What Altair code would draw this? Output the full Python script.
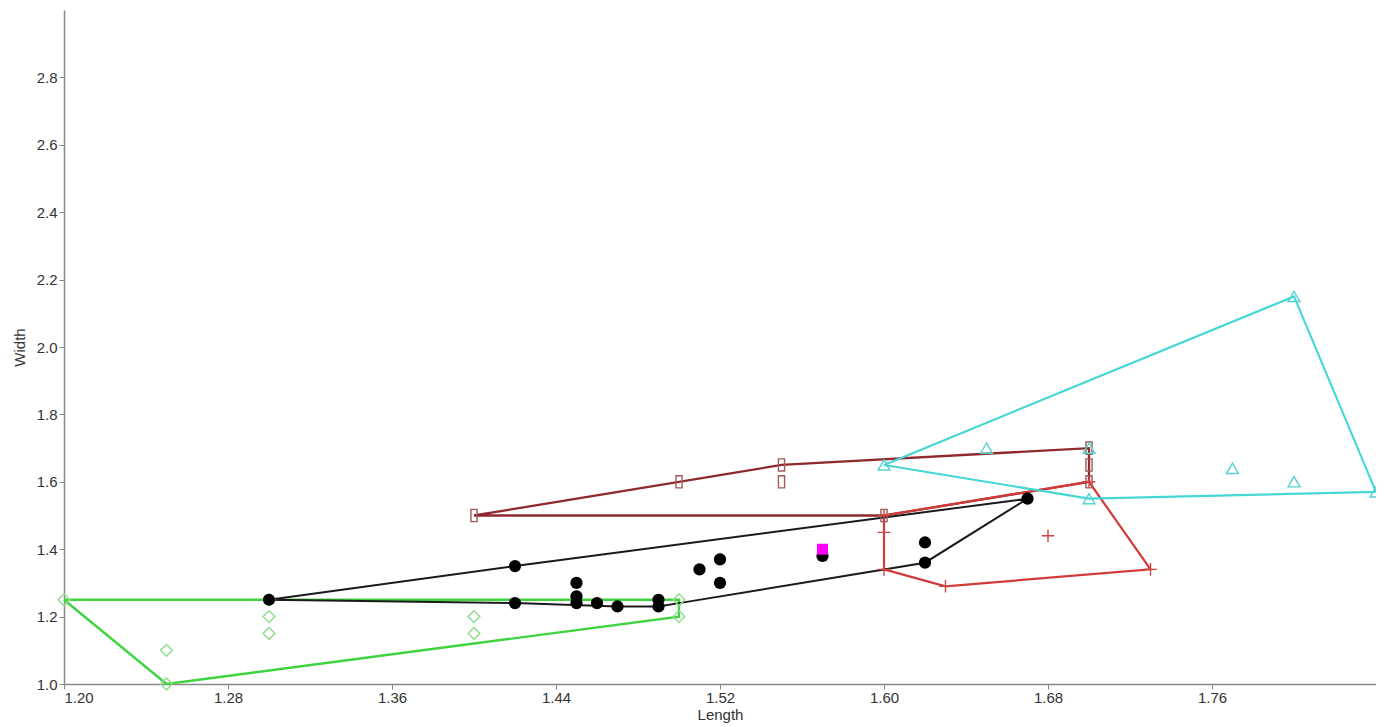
import altair as alt
import pandas as pd

# ---- data ----
black_x = [1.30, 1.42, 1.42, 1.45, 1.45, 1.45, 1.46, 1.47, 1.49, 1.49, 1.51, 1.52, 1.52, 1.57, 1.62, 1.62, 1.67]
black_y = [1.25, 1.35, 1.24, 1.30, 1.26, 1.24, 1.24, 1.23, 1.25, 1.23, 1.34, 1.37, 1.30, 1.38, 1.42, 1.36, 1.55]

green_x = [1.20, 1.25, 1.25, 1.30, 1.30, 1.30, 1.40, 1.40, 1.50, 1.50]
green_y = [1.25, 1.10, 1.00, 1.25, 1.20, 1.15, 1.20, 1.15, 1.25, 1.20]

brown_x = [1.40, 1.50, 1.55, 1.55, 1.60, 1.70, 1.70, 1.70]
brown_y = [1.50, 1.60, 1.65, 1.60, 1.50, 1.70, 1.65, 1.60]

red_x = [1.60, 1.60, 1.60, 1.63, 1.73, 1.68, 1.70]
red_y = [1.50, 1.45, 1.34, 1.29, 1.34, 1.44, 1.60]

cyan_x = [1.60, 1.65, 1.70, 1.70, 1.77, 1.80, 1.80, 1.84]
cyan_y = [1.65, 1.70, 1.70, 1.55, 1.64, 1.60, 2.15, 1.57]

magenta_x = [1.57]
magenta_y = [1.40]

# hull outlines (vertex order)
hull_black_x = [1.30, 1.42, 1.67, 1.62, 1.50, 1.49, 1.47, 1.42, 1.30]
hull_black_y = [1.25, 1.35, 1.55, 1.36, 1.24, 1.23, 1.23, 1.24, 1.25]
hull_green_x = [1.20, 1.50, 1.50, 1.25, 1.20]
hull_green_y = [1.25, 1.25, 1.20, 1.00, 1.25]
hull_brown_x = [1.40, 1.50, 1.55, 1.70, 1.70, 1.60, 1.40]
hull_brown_y = [1.50, 1.60, 1.65, 1.70, 1.60, 1.50, 1.50]
hull_red_x = [1.60, 1.70, 1.73, 1.63, 1.60, 1.60]
hull_red_y = [1.50, 1.60, 1.34, 1.29, 1.34, 1.50]
hull_cyan_x = [1.60, 1.80, 1.84, 1.70, 1.60]
hull_cyan_y = [1.65, 2.15, 1.57, 1.55, 1.65]

x_ticks = [1.20, 1.28, 1.36, 1.44, 1.52, 1.60, 1.68, 1.76]
y_ticks = [1.0, 1.2, 1.4, 1.6, 1.8, 2.0, 2.2, 2.4, 2.6, 2.8]

groups = ["green", "brown", "red", "cyan", "black"]
line_colors = ["#3fd43f", "#8e2a2e", "#d23a3a", "#45d6d6", "#1a1a1a"]
line_widths = [2.4, 2.0, 2.0, 2.4, 1.8]

hulls = {
    "green": (hull_green_x, hull_green_y),
    "brown": (hull_brown_x, hull_brown_y),
    "red": (hull_red_x, hull_red_y),
    "cyan": (hull_cyan_x, hull_cyan_y),
    "black": (hull_black_x, hull_black_y),
}
rows = []
for g, (xs, ys) in hulls.items():
    for i, (a, b) in enumerate(zip(xs, ys)):
        rows.append({"group": g, "order": i, "x": a, "y": b})
hull_df = pd.DataFrame(rows)

xscale = alt.Scale(domain=[1.20, 1.84], nice=False, zero=False)
yscale = alt.Scale(domain=[1.0, 3.0], nice=False, zero=False)

font = "Liberation Sans"
xaxis = alt.Axis(values=x_ticks, format=".2f", title="Length", grid=False,
                 labelFontSize=15, titleFontSize=15, titleFontWeight="normal",
                 labelColor="#333333", titleColor="#333333", domainColor="#888888",
                 tickColor="#888888", tickSize=5, labelPadding=1, titlePadding=2,
                 labelFont=font, titleFont=font, domainWidth=1.5)
yaxis = alt.Axis(values=y_ticks, format=".1f", title="Width", grid=False,
                 labelFontSize=15, titleFontSize=15, titleFontWeight="normal",
                 labelColor="#333333", titleColor="#333333", domainColor="#888888",
                 tickColor="#888888", tickSize=5, labelPadding=2, titlePadding=9,
                 labelFont=font, titleFont=font, domainWidth=1.5)

lines = alt.Chart(hull_df).mark_line(clip=False).encode(
    x=alt.X("x:Q", scale=xscale, axis=xaxis),
    y=alt.Y("y:Q", scale=yscale, axis=yaxis),
    color=alt.Color("group:N", scale=alt.Scale(domain=groups, range=line_colors), legend=None),
    strokeWidth=alt.StrokeWidth("group:N", scale=alt.Scale(domain=groups, range=line_widths), legend=None),
    detail="group:N",
    order="order:Q",
)


def pts(xs, ys, **mk):
    df = pd.DataFrame({"x": xs, "y": ys})
    return alt.Chart(df).mark_point(clip=False, **mk).encode(
        x=alt.X("x:Q", scale=xscale, axis=xaxis),
        y=alt.Y("y:Q", scale=yscale, axis=yaxis),
    )

rect_path = "M-0.5,-1L0.5,-1L0.5,1L-0.5,1Z"
plus_path = "M-1,0L1,0M0,-1L0,1"

green_pts = pts(green_x, green_y, shape="diamond", size=140, filled=False,
                stroke="#8fdc8f", strokeWidth=1.4, opacity=1)
brown_pts = pts(brown_x, brown_y, shape=rect_path, size=150, filled=False,
                stroke="#a05a5a", strokeWidth=1.4, opacity=1)
red_pts = pts(red_x, red_y, shape=plus_path, size=160, filled=False,
              stroke="#d04545", strokeWidth=1.4, opacity=1)
cyan_pts = pts(cyan_x, cyan_y, shape="triangle-up", size=140, filled=False,
               stroke="#55d2d2", strokeWidth=1.4, opacity=1)
black_pts = pts(black_x, black_y, shape="circle", size=150, filled=True,
                color="#000000", opacity=1)
mag_pts = pts(magenta_x, magenta_y, shape="square", size=120, filled=True,
              color="#ff00ff", opacity=1)

chart = alt.layer(lines, green_pts, brown_pts, red_pts, cyan_pts, black_pts, mag_pts).properties(
    width=1312,
    height=674,
    autosize=alt.AutoSizeParams(type="none"),
    padding={"left": 56, "top": 2, "right": 0, "bottom": 40},
    background="white",
).configure_view(strokeWidth=0, stroke="transparent")

chart.save("out.html", embed_options={"renderer": "svg", "actions": False})
